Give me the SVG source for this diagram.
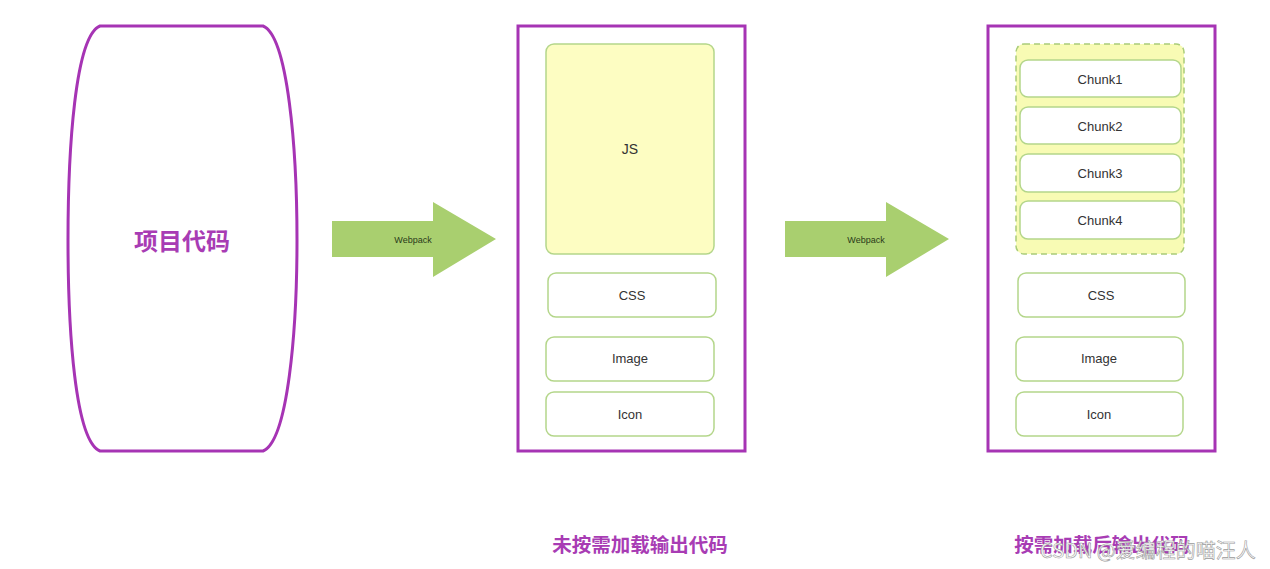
<svg xmlns="http://www.w3.org/2000/svg" width="1270" height="569" viewBox="0 0 1270 569">
<style>
.frame{fill:#fff;stroke:#a634b4;stroke-width:3}
.box{fill:#fff;stroke:#b4d68a;stroke-width:1.5}
.yel{fill:#fdfdc2;stroke:#b4d68a;stroke-width:1.5}
.dash{fill:#f8fbb4;stroke:#a9cc78;stroke-width:1.5;stroke-dasharray:6 4}
.arrow{fill:#a9cf6f}
.lbl{font-family:"Liberation Sans",Arial,sans-serif;font-size:13px;fill:#333;text-anchor:middle;dominant-baseline:central}
.arr{font-family:"Liberation Sans",Arial,sans-serif;font-size:9px;fill:#2a3a1a;text-anchor:middle;dominant-baseline:central}
.title{font-family:"Noto Sans CJK SC",sans-serif;font-size:19.5px;font-weight:bold;fill:#a83cb4;text-anchor:middle;dominant-baseline:central}
.wm{font-family:"Noto Sans CJK SC",sans-serif;font-size:20px;fill:#fff;stroke:#9a9a9a;stroke-width:0.6;text-anchor:start;dominant-baseline:central}
</style>
<rect width="1270" height="569" fill="#fff"/>
<g id="source">
<path class="frame" d="M100 26 H263 C288 36 297 150 297 240 C297 330 288 441 263 451 H100 C75 441 68 330 68 240 C68 150 75 36 100 26 Z"/>
<text class="title" x="182" y="239" style="font-size:24px">项目代码</text>
</g>
<g id="connectors">
<g id="arrow1">
<polygon class="arrow" points="332,221 433,221 433,202 496,239 433,277 433,257 332,257"/>
<text class="arr" x="413" y="240">Webpack</text>
</g>
<g id="arrow2">
<polygon class="arrow" points="785,221 886,221 886,202 949,239 886,277 886,257 785,257"/>
<text class="arr" x="866" y="240">Webpack</text>
</g>
</g>
<g id="output1">
<rect class="frame" x="518" y="26" width="227" height="425"/>
<g id="js"><rect class="yel" x="546" y="44" width="168" height="210" rx="8"/><text class="lbl" x="630" y="149" style="font-size:14px">JS</text></g>
<g id="css1"><rect class="box" x="548" y="273" width="168" height="44" rx="8"/><text class="lbl" x="632" y="295">CSS</text></g>
<g id="image1"><rect class="box" x="546" y="337" width="168" height="44" rx="8"/><text class="lbl" x="630" y="358">Image</text></g>
<g id="icon1"><rect class="box" x="546" y="392" width="168" height="44" rx="8"/><text class="lbl" x="630" y="414">Icon</text></g>
<text class="title" x="640" y="543">未按需加载输出代码</text>
</g>
<g id="output2">
<rect class="frame" x="988" y="26" width="227" height="425"/>
<g id="chunks"><rect class="dash" x="1016" y="44" width="168" height="210" rx="8"/></g>
<g id="chunk1"><rect class="box" x="1020" y="60" width="161" height="37" rx="8"/><text class="lbl" x="1100" y="79">Chunk1</text></g>
<g id="chunk2"><rect class="box" x="1020" y="107" width="161" height="37" rx="8"/><text class="lbl" x="1100" y="126">Chunk2</text></g>
<g id="chunk3"><rect class="box" x="1020" y="154" width="161" height="38" rx="8"/><text class="lbl" x="1100" y="173">Chunk3</text></g>
<g id="chunk4"><rect class="box" x="1020" y="201" width="161" height="38" rx="8"/><text class="lbl" x="1100" y="220">Chunk4</text></g>
<g id="css2"><rect class="box" x="1018" y="273" width="167" height="44" rx="8"/><text class="lbl" x="1101" y="295">CSS</text></g>
<g id="image2"><rect class="box" x="1016" y="337" width="167" height="44" rx="8"/><text class="lbl" x="1099" y="358">Image</text></g>
<g id="icon2"><rect class="box" x="1016" y="392" width="167" height="44" rx="8"/><text class="lbl" x="1099" y="414">Icon</text></g>
<text class="title" x="1102" y="543">按需加载后输出代码</text>
</g>
<text class="wm" x="1040" y="549">CSDN @爱编程的喵汪人</text>
</svg>
